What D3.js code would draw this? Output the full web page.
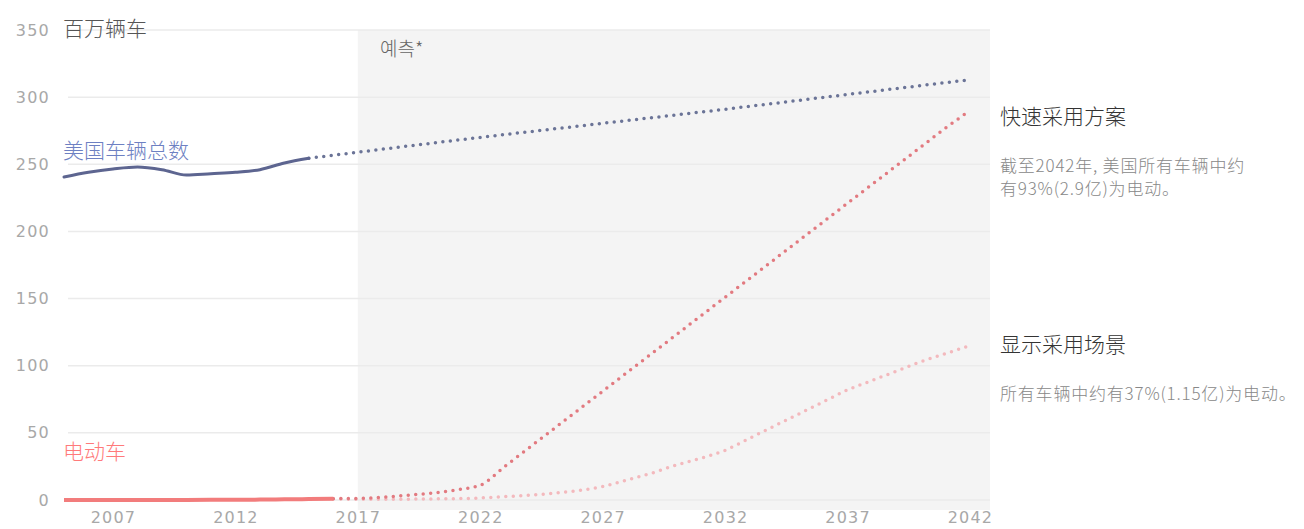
<!DOCTYPE html>
<html>
<head>
<meta charset="utf-8">
<script src="https://cdn.jsdelivr.net/npm/d3@7"></script>
<style>
    body { margin: 0; background: #fff; }
    svg { display: block; }
    .tick-label { font-family: "DejaVu Sans", sans-serif; fill: #a8a8a8; font-size: 16px; letter-spacing: 1.2px; }
</style>
</head>
<body>
<svg id="chart" width="1304" height="529"></svg>
<script>
// historical data (million vehicles)
const histYears = [2005, 2006, 2007, 2008, 2009, 2010, 2011, 2012, 2013, 2014, 2015];
const histTotal = [240.5, 244, 246.5, 248, 246, 242, 243, 244, 246, 251, 254.5];

const evHistYears = [2005, 2006, 2007, 2008, 2009, 2010, 2011, 2012, 2013, 2014, 2015, 2016];
const evHist = [0, 0, 0, 0, 0, 0, 0.1, 0.2, 0.3, 0.5, 0.7, 1];

// forecasts
const totalForecastYears = [2015, 2017, 2022, 2027, 2032, 2037, 2042];
const totalForecast = [254.5, 259, 270, 280.5, 291, 302, 313];

const forecastYears = [2016, 2017, 2018, 2019, 2020, 2021, 2022, 2023, 2024, 2025, 2026, 2027, 2028, 2029,
    2030, 2031, 2032, 2033, 2034, 2035, 2036, 2037, 2038, 2039, 2040, 2041, 2042];
const fastAdoption = [1, 1.2, 2, 3.5, 5, 7.5, 11, 25, 39, 53, 67, 81, 95, 109,
    123, 137, 151, 165, 179, 193, 207, 221, 235, 249, 263, 277, 290];
const slowAdoption = [1, 0.5, 0.5, 0.6, 0.8, 1, 1.5, 2.5, 3.5, 5, 7, 10, 15, 20,
    26, 31, 37, 46, 55, 64, 73, 82, 89, 96, 103, 109, 115];

const xTicks = [2007, 2012, 2017, 2022, 2027, 2032, 2037, 2042];
const yTicks = [0, 50, 100, 150, 200, 250, 300, 350];

const svg = d3.select('#chart');

const x = d3.scaleLinear().domain([2005, 2042]).range([64, 970]);
const y = d3.scaleLinear().domain([0, 350]).range([500, 30]);

// forecast shading
svg.append('rect')
    .attr('x', x(2017))
    .attr('y', y(350))
    .attr('width', x.range()[1] + 20 - x(2017))
    .attr('height', y(0) + 10 - y(350))
    .attr('fill', '#f4f4f4');

// grid lines
svg.append('g')
    .selectAll('line')
    .data(yTicks)
    .enter()
    .append('line')
    .attr('x1', x.range()[0] + 4)
    .attr('x2', x.range()[1] + 20)
    .attr('y1', d => y(d))
    .attr('y2', d => y(d))
    .attr('stroke', '#ebebeb')
    .attr('stroke-width', 1.5);

// y axis labels
const yAxis = d3.axisLeft(y).tickValues(yTicks).tickSize(0).tickPadding(0);
svg.append('g')
    .attr('transform', 'translate(50,0)')
    .call(yAxis)
    .call(g => g.select('.domain').remove())
    .call(g => g.selectAll('text').attr('class', 'tick-label').attr('fill', null).attr('font-size', null).attr('font-family', null));

// x axis labels
const xAxis = d3.axisBottom(x).tickValues(xTicks).tickFormat(d3.format('d')).tickSize(0).tickPadding(0);
svg.append('g')
    .attr('transform', 'translate(0,512)')
    .call(xAxis)
    .call(g => g.select('.domain').remove())
    .call(g => g.selectAll('text').attr('class', 'tick-label').attr('fill', null).attr('font-size', null).attr('font-family', null));

const line = d3.line()
    .x(d => x(d[0]))
    .y(d => y(d[1]))
    .curve(d3.curveMonotoneX);

function dotted(years, values, color) {
    svg.append('path')
        .datum(d3.zip(years, values))
        .attr('d', line)
        .attr('fill', 'none')
        .attr('stroke', color)
        .attr('stroke-width', 3.5)
        .attr('stroke-linecap', 'round')
        .attr('stroke-dasharray', '0,7.5');
}

// forecast lines
dotted(forecastYears, slowAdoption, '#f3b9bd');
dotted(forecastYears, fastAdoption, '#e27a80');
dotted(totalForecastYears, totalForecast, '#6b7497');

// historical lines
svg.append('path')
    .datum(d3.zip(histYears, histTotal))
    .attr('d', line)
    .attr('fill', 'none')
    .attr('stroke', '#5d6590')
    .attr('stroke-width', 3)
    .attr('stroke-linecap', 'round');

svg.append('path')
    .datum(d3.zip(evHistYears, evHist))
    .attr('d', line)
    .attr('fill', 'none')
    .attr('stroke', '#f27c7c')
    .attr('stroke-width', 4);

// labels
function label(text, px, py, size, color, family, spacing) {
    svg.append('text')
        .attr('x', px)
        .attr('y', py)
        .attr('font-size', size)
        .attr('fill', color)
        .attr('font-family', family || '"Noto Sans CJK SC", sans-serif')
        .attr('font-weight', 300)
        .attr('letter-spacing', spacing || 0)
        .text(text);
}

label('百万辆车', 63, 36, 21, '#555');
label('예측*', 380, 56, 19, '#666', '"Noto Sans CJK KR", sans-serif');
label('美国车辆总数', 63, 158, 21, '#6d80c2');
label('电动车', 63, 459, 21, '#ff7a7a');

label('快速采用方案', 1000, 124, 21, '#333');
label('截至2042年, 美国所有车辆中约', 1000, 172, 17, '#888', null, 0.8);
label('有93%(2.9亿)为电动。', 1000, 195, 17, '#888', null, 0.8);

label('显示采用场景', 1000, 352, 21, '#333');
label('所有车辆中约有37%(1.15亿)为电动。', 1000, 400, 17, '#888', null, 0.8);
</script>
</body>
</html>
